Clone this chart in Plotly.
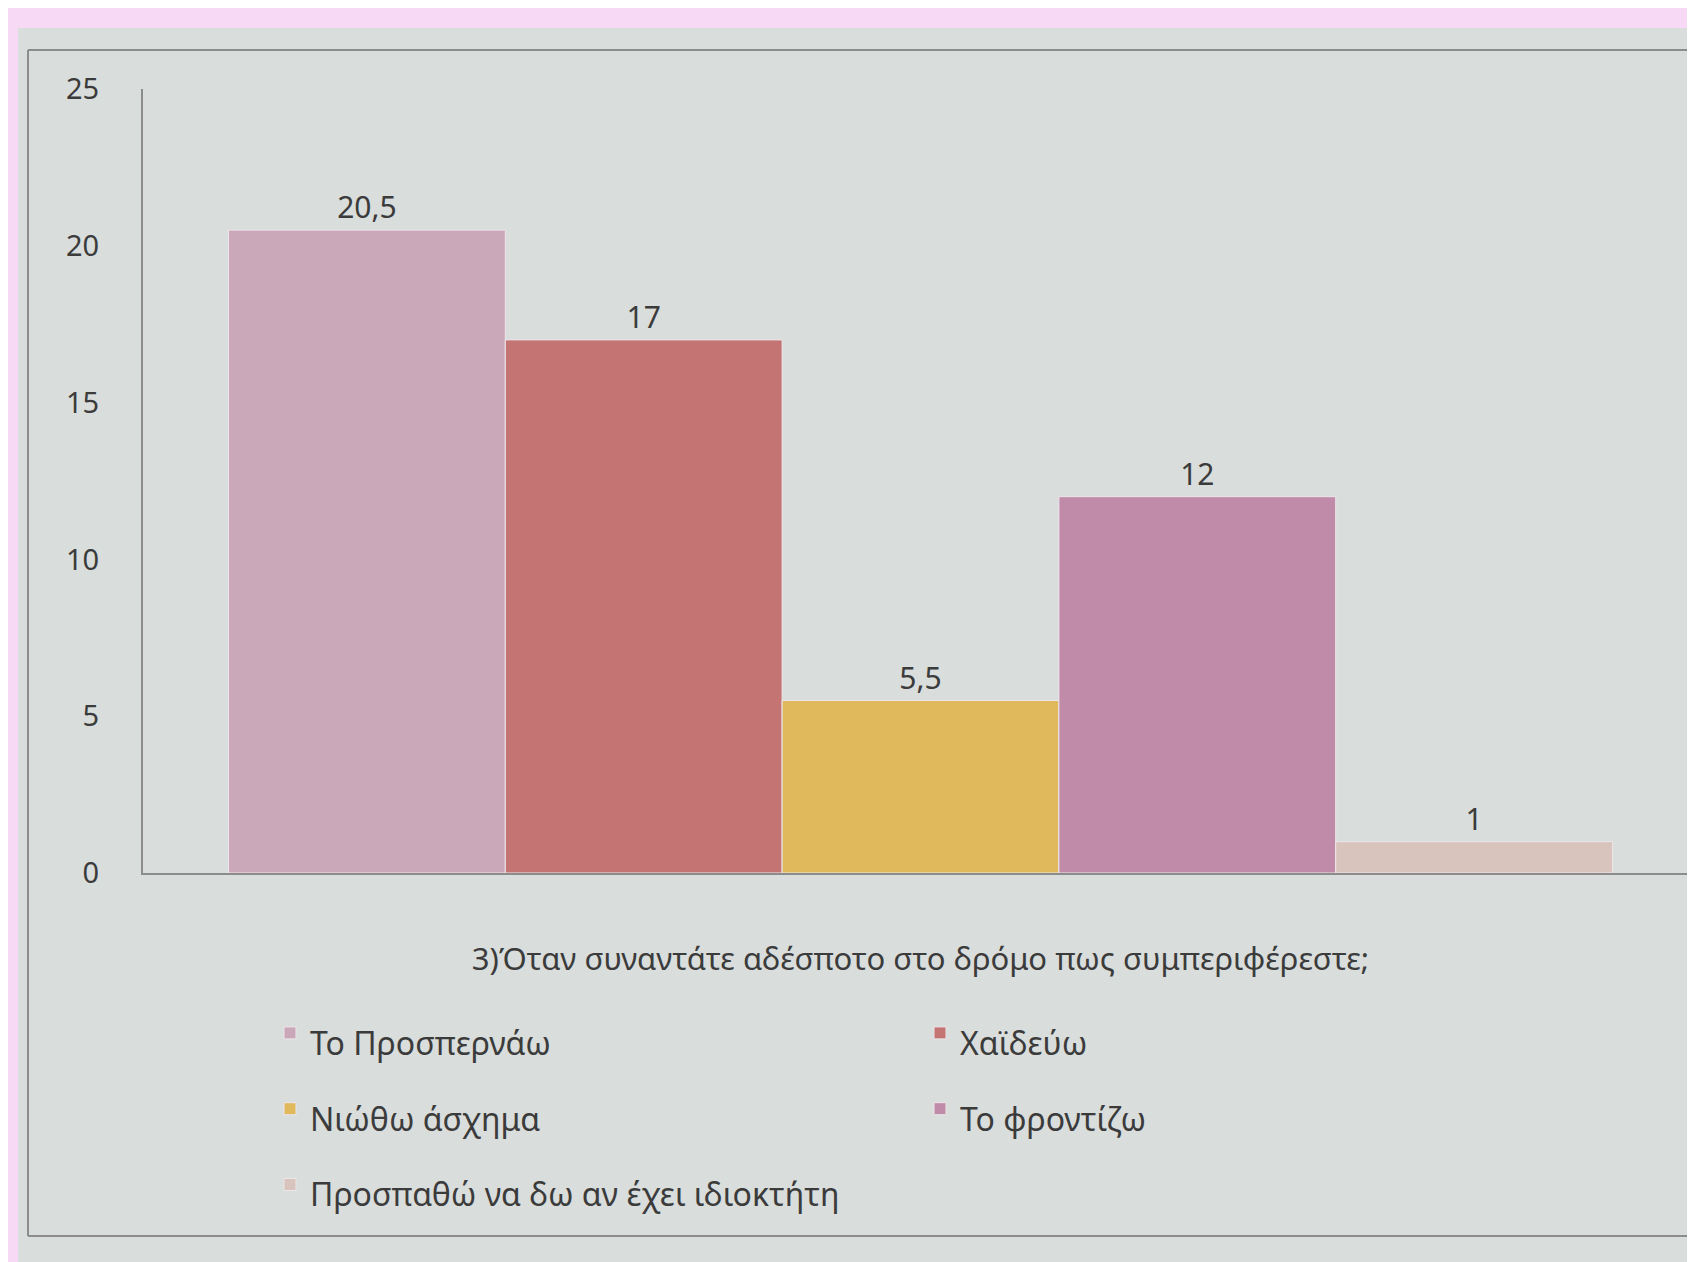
import plotly.graph_objects as go

# Chart data
QUESTION = '3)Όταν συναντάτε αδέσποτο στο δρόμο πως συμπεριφέρεστε;'
ANSWERS = ['Το Προσπερνάω', 'Χαϊδεύω', 'Νιώθω άσχημα', 'Το φροντίζω',
           'Προσπαθώ να δω αν έχει ιδιοκτήτη']
VALUES = [20.5, 17, 5.5, 12, 1]
Y_TICKS = [0, 5, 10, 15, 20, 25]

# Look
COLORS = ['#cba7ba', '#c47472', '#e0b95c', '#bf8ba8', '#d8c3bd']
BG_COLOR = '#d9dddb'
PINK = '#f8d9f5'
FRAME_COLOR = '#8c8c8c'
TEXT_COLOR = '#3b3b3b'
FONT = 'Noto Sans'

# Page geometry (pixels)
WIDTH, HEIGHT = 1695, 1262
M_L, M_R, M_T, M_B = 135, 5, 81, 397
PLOT_W = WIDTH - M_L - M_R
PLOT_H = HEIGHT - M_T - M_B


def px_x(px):
    return (px - M_L) / PLOT_W


def px_y(py):
    return (HEIGHT - M_B - py) / PLOT_H


fig = go.Figure()

for name, value, color in zip(ANSWERS, VALUES, COLORS):
    fig.add_trace(go.Bar(
        x=[QUESTION], y=[value],
        # big legend font gives the row spacing, span keeps text readable size
        name=f'<span style="font-size:32px">{name}</span>',
        marker=dict(color=color, line=dict(color='#ece6ea', width=1)),
        text=[f'{value:g}'.replace('.', ',')],
        textposition='outside',
        textfont=dict(size=30, color=TEXT_COLOR, family=FONT),
        cliponaxis=False,
    ))

# Gray screen panel on pink background
fig.add_shape(type='rect', xref='paper', yref='paper', layer='below',
              x0=px_x(10), x1=px_x(WIDTH + 5), y0=px_y(HEIGHT + 5), y1=px_y(20),
              fillcolor=BG_COLOR, line_width=0)
# Inner frame lines
fig.add_shape(type='line', xref='paper', yref='paper', layer='below',
              x0=px_x(20), x1=px_x(WIDTH + 5), y0=px_y(42), y1=px_y(42),
              line=dict(color=FRAME_COLOR, width=2))
fig.add_shape(type='line', xref='paper', yref='paper', layer='below',
              x0=px_x(20), x1=px_x(20), y0=px_y(42), y1=px_y(1228),
              line=dict(color=FRAME_COLOR, width=2))
fig.add_shape(type='line', xref='paper', yref='paper', layer='below',
              x0=px_x(20), x1=px_x(WIDTH + 5), y0=px_y(1228), y1=px_y(1228),
              line=dict(color=FRAME_COLOR, width=2))

fig.update_layout(
    width=WIDTH, height=HEIGHT,
    margin=dict(l=M_L, r=M_R, t=M_T, b=M_B),
    paper_bgcolor=PINK,
    plot_bgcolor='rgba(0,0,0,0)',
    barmode='group',
    bargap=0.11,
    bargroupgap=0,
    font=dict(family=FONT, color=TEXT_COLOR),
    legend=dict(
        orientation='h',
        x=px_x(262), xanchor='left',
        y=px_y(982), yanchor='top',
        entrywidth=605,
        font=dict(size=56, color=TEXT_COLOR, family=FONT),
        bgcolor='rgba(0,0,0,0)',
    ),
    xaxis=dict(
        showline=True, linecolor=FRAME_COLOR, linewidth=2,
        showgrid=False, ticks='',
        tickfont=dict(size=31, color=TEXT_COLOR, family=FONT),
        ticklabelstandoff=58,
    ),
    yaxis=dict(
        range=[0, 25], tickvals=Y_TICKS,
        showline=True, linecolor=FRAME_COLOR, linewidth=2,
        showgrid=False, zeroline=False, ticks='',
        tickfont=dict(size=29, color=TEXT_COLOR, family=FONT),
        ticklabelstandoff=36,
    ),
)

fig.write_html('out.html')
